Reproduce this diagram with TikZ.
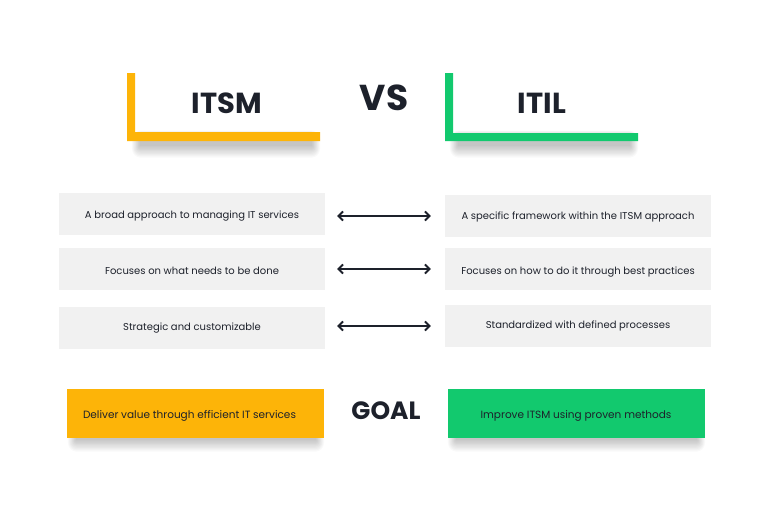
\documentclass[tikz,border=0pt]{standalone}
\usepackage{fontspec}
\setmainfont{Poppins}
\usetikzlibrary{arrows.meta}

\definecolor{itsmyellow}{HTML}{FDB408}
\definecolor{itilgreen}{HTML}{12C96E}
\definecolor{cellgray}{HTML}{F1F1F1}
\definecolor{inkdark}{HTML}{1D212B}

\tikzset{
  heading/.style={font=\bfseries\fontsize{29}{32}\selectfont, text=inkdark, inner sep=0pt},
  % vertical placement of the line of text: a negative depth lowers it
  capline/.style={text height=10pt, text depth=#1},
  capline/.default=0pt,
  cell/.style={fill=cellgray, draw=none, minimum width=266pt, minimum height=42pt, inner sep=0pt,
               font=\fontsize{10}{12}\selectfont, text=inkdark},
  goalbox/.style={draw=none, minimum width=257pt, minimum height=49pt, inner sep=0pt,
                  font=\fontsize{10.5}{12}\selectfont, text=inkdark},
  pairarrow/.style={{Straight Barb[length=4.5pt,width=9pt,line width=1.9pt]}-{Straight Barb[length=4.5pt,width=9pt,line width=1.9pt]}, line width=1.5pt, draw=inkdark},
  shadowlayer/.style={fill=black, fill opacity=0.024, draw=none}
}

% soft drop shadow: stacked translucent rounded rectangles
\newcommand{\softshade}[4]{%
  \foreach \k in {0,...,9} {
    \fill[shadowlayer, rounded corners=\k pt]
      ({#1-\k*0.9},{#2-\k*0.6}) rectangle ({#3+\k*0.9},{#4+\k*1.3});
  }%
}

\begin{document}
\begin{tikzpicture}[x=1pt,y=-1pt]
  \useasboundingbox[fill=white] (0,0) rectangle (768,512);

  % shadows under the brackets and goal boxes
  \softshade{140}{136}{312}{146}
  \softshade{458}{136}{630}{146}
  \softshade{76}{420}{316}{440}
  \softshade{456}{420}{697}{440}

  % ITSM bracket
  \fill[itsmyellow] (127,73) -- (135,73) -- (135,132) -- (320,132) -- (320,141) -- (127,141) -- cycle;
  \node[heading] (itsm) at (227,103) {ITSM};

  % ITIL bracket
  \fill[itilgreen] (445,73) -- (453,73) -- (453,133) -- (638,133) -- (638,141) -- (445,141) -- cycle;
  \node[heading] (itil) at (542,103) {ITIL};

  \node[font=\bfseries\fontsize{36}{40}\selectfont, text=inkdark, inner sep=0pt] (vs) at (384,98) {VS};

  % comparison rows
  \node[cell, capline=-2pt] (l1) at (192,213.5) {A broad approach to managing IT services};
  \node[cell, capline=-3pt] (l2) at (192,269) {Focuses on what needs to be done};
  \node[cell, capline=6pt]  (l3) at (192,328) {Strategic and customizable};

  \node[cell, capline=1.6pt] (r1) at (578,215.5) {A specific framework within the ITSM approach};
  \node[cell, capline=-2pt]  (r2) at (578,269) {Focuses on how to do it through best practices};
  \node[cell, capline=5pt]   (r3) at (578,325.5) {Standardized with defined processes};

  \draw[pairarrow] ([xshift=12pt]l1.east |- 0,216) -- ([xshift=-14pt]r1.west |- 0,216);
  \draw[pairarrow] ([xshift=12pt]l2.east |- 0,269) -- ([xshift=-14pt]r2.west |- 0,269);
  \draw[pairarrow] ([xshift=12pt]l3.east |- 0,326) -- ([xshift=-14pt]r3.west |- 0,326);

  % goals
  \node[goalbox, capline=-1pt, fill=itsmyellow] (g1) at (195.5,413.5) {\hspace*{-12pt}Deliver value through efficient IT services};
  \node[font=\bfseries\fontsize{25}{28}\selectfont, text=inkdark, inner sep=0pt] (goal) at (386,410.5) {GOAL};
  \node[goalbox, capline=-1pt, fill=itilgreen] (g2) at (576,413.5) {Improve ITSM using proven methods};
\end{tikzpicture}
\end{document}
